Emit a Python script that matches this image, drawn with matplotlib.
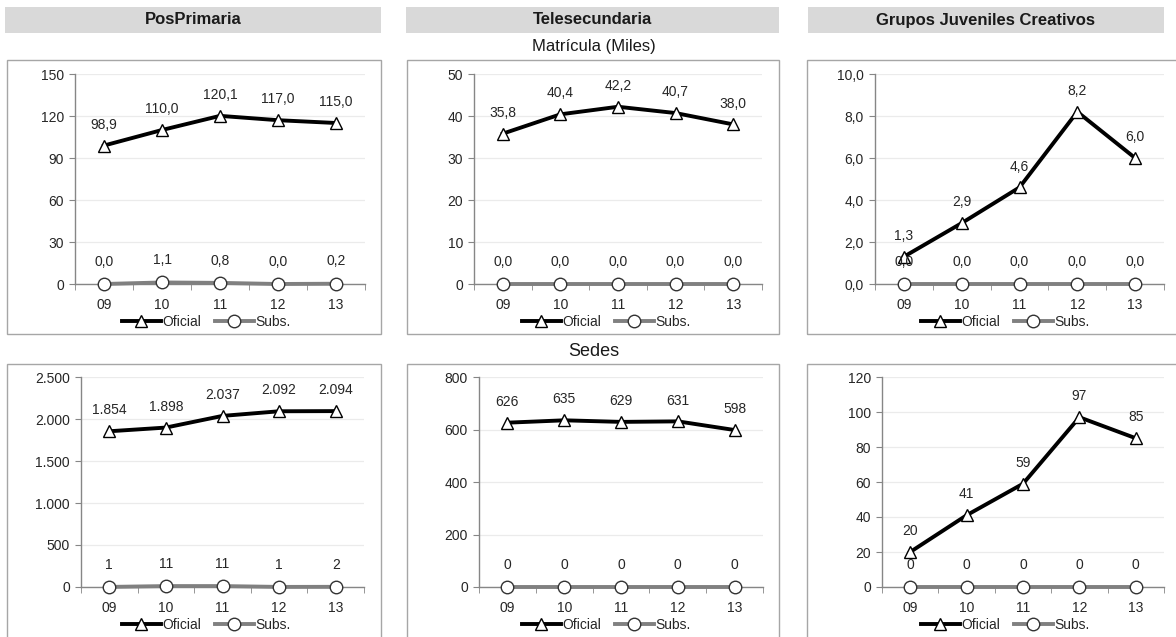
import matplotlib.pyplot as plt
from matplotlib.patches import Rectangle

plt.rcParams['font.family'] = ['Liberation Sans', 'DejaVu Sans']

# data
years = ["09", "10", "11", "12", "13"]
columns = ["PosPrimaria", "Telesecundaria", "Grupos Juveniles Creativos"]

pos_mat_oficial = [98.9, 110.0, 120.1, 117.0, 115.0]
pos_mat_subs = [0.0, 1.1, 0.8, 0.0, 0.2]
tele_mat_oficial = [35.8, 40.4, 42.2, 40.7, 38.0]
tele_mat_subs = [0.0, 0.0, 0.0, 0.0, 0.0]
gjc_mat_oficial = [1.3, 2.9, 4.6, 8.2, 6.0]
gjc_mat_subs = [0.0, 0.0, 0.0, 0.0, 0.0]

pos_sed_oficial = [1854, 1898, 2037, 2092, 2094]
pos_sed_subs = [1, 11, 11, 1, 2]
tele_sed_oficial = [626, 635, 629, 631, 598]
tele_sed_subs = [0, 0, 0, 0, 0]
gjc_sed_oficial = [20, 41, 59, 97, 85]
gjc_sed_subs = [0, 0, 0, 0, 0]

W, H = 1176, 637
fig = plt.figure(figsize=(W / 100, H / 100), dpi=100)


def fx(x):
    return x / W


def fy(y):
    return 1 - y / H


def fmt_dec(v):
    return f"{v:.1f}".replace(".", ",")


def fmt_int(v):
    return f"{v:,.0f}".replace(",", ".")


def box(x0, y0, x1, y1, **kw):
    fig.patches.append(Rectangle((fx(x0), fy(y1)), fx(x1 - x0), (y1 - y0) / H,
                                 transform=fig.transFigure, **kw))


# column headers
header_x = [(5, 381), (406, 779), (808, 1164)]
for (x0, x1), name in zip(header_x, columns):
    box(x0, 7, x1, 33, facecolor="#d9d9d9", edgecolor="none")
    fig.text(fx((x0 + x1) / 2), fy(20), name, ha="center", va="center",
             fontsize=12, fontweight="bold", color="#1a1a1a")

# panel borders
panel_x = [(7, 381), (407, 779), (807, 1180)]
for x0, x1 in panel_x:
    box(x0, 60, x1, 334, facecolor="none", edgecolor="#a6a6a6", lw=1)
    box(x0, 364, x1, 645, facecolor="none", edgecolor="#a6a6a6", lw=1)

fig.text(fx(594), fy(47), "Matrícula (Miles)", ha="center", va="center", fontsize=12, color="#1a1a1a")
fig.text(fx(594), fy(352), "Sedes", ha="center", va="center", fontsize=13, color="#1a1a1a")

panels = [
    # oficial, subs, ymax, ystep, tick fmt, label fmt, axes px, legend center
    (pos_mat_oficial, pos_mat_subs, 150, 30, fmt_int, fmt_dec, (75, 74, 365, 284), (206, 322)),
    (tele_mat_oficial, tele_mat_subs, 50, 10, fmt_int, fmt_dec, (474, 74, 762, 284), (606, 322)),
    (gjc_mat_oficial, gjc_mat_subs, 10, 2, fmt_dec, fmt_dec, (875, 74, 1164, 284), (1005, 322)),
    (pos_sed_oficial, pos_sed_subs, 2500, 500, fmt_int, fmt_int, (81, 377, 364, 587), (206, 625)),
    (tele_sed_oficial, tele_sed_subs, 800, 200, fmt_int, fmt_int, (479, 377, 763, 587), (606, 625)),
    (gjc_sed_oficial, gjc_sed_subs, 120, 20, fmt_int, fmt_int, (882, 377, 1164, 587), (1005, 625)),
]

xs = list(range(len(years)))
for oficial, subs, ymax, ystep, tick_fmt, lab_fmt, (x0, y0, x1, y1), (lx, ly) in panels:
    ax = fig.add_axes([fx(x0), fy(y1), fx(x1 - x0), (y1 - y0) / H])
    ax.set_facecolor("none")
    l1, = ax.plot(xs, oficial, color="black", lw=2.8, marker="^", ms=9,
                  mfc="white", mec="black", mew=1.0, zorder=4, label="Oficial")
    l2, = ax.plot(xs, subs, color="#808080", lw=2.8, marker="o", ms=9,
                  mfc="white", mec="#333333", mew=1.0, zorder=3, label="Subs.", clip_on=False)

    for x, v in zip(xs, oficial):
        ax.annotate(lab_fmt(v), (x, v), xytext=(0, 15), textcoords="offset points",
                    ha="center", va="center", fontsize=10, color="#262626", zorder=6)
    for x, v in zip(xs, subs):
        ax.annotate(lab_fmt(v), (x, v), xytext=(0, 16), textcoords="offset points",
                    ha="center", va="center", fontsize=10, color="#262626", zorder=6)

    ax.set_xlim(-0.5, len(years) - 0.5)
    ax.set_ylim(0, ymax)
    yt = list(range(0, ymax + 1, ystep))
    ax.set_yticks(yt)
    ax.set_yticklabels([tick_fmt(t) for t in yt])
    ax.set_xticks(xs)
    ax.set_xticklabels(years)
    ax.set_xticks([i - 0.5 for i in range(len(years) + 1)], minor=True)
    ax.tick_params(axis="x", which="major", length=0, pad=10, labelsize=10, colors="#262626")
    ax.tick_params(axis="x", which="minor", length=4, color="#868686", direction="out")
    ax.tick_params(axis="y", length=4, color="#868686", labelsize=10, labelcolor="#262626", pad=4)
    ax.grid(axis="y", color="#ebebeb", lw=0.9)
    ax.set_axisbelow(True)
    for s in ["top", "right"]:
        ax.spines[s].set_visible(False)
    for s in ["left", "bottom"]:
        ax.spines[s].set_color("#868686")
        ax.spines[s].set_linewidth(1)
    ax.spines["bottom"].set_zorder(2)

    fig.legend(handles=[l1, l2], loc="center", bbox_to_anchor=(fx(lx), fy(ly)), ncol=2,
               frameon=False, fontsize=10, handlelength=2.8, handletextpad=0.1,
               columnspacing=1.0, borderpad=0, labelcolor="#262626")

fig.savefig("out.png", dpi=100)
